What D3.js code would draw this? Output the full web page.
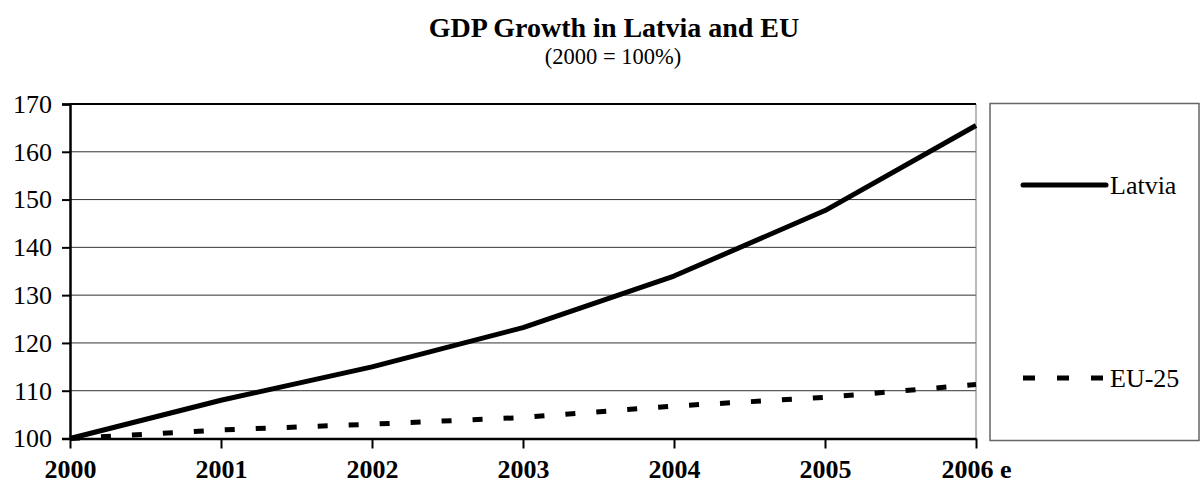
<!DOCTYPE html>
<html><head><meta charset="utf-8">
<script src="https://cdn.jsdelivr.net/npm/d3@7"></script>
<style>body{margin:0;background:#fff}svg{display:block}svg text{font-family:'Liberation Serif','Times New Roman',serif}</style>
</head><body>
<script>
const categories = ["2000","2001","2002","2003","2004","2005","2006 e"];
const latvia = [100, 108, 115, 123.2, 134, 147.7, 165.5];
const eu25 = [100, 101.8, 103, 104.4, 106.8, 108.6, 111.3];
const yTicks = [100,110,120,130,140,150,160,170];
const seriesNames = ["Latvia","EU-25"];

const W=1201,H=488;
const svg=d3.select("body").append("svg").attr("width",W).attr("height",H);
const font="'Liberation Serif','Times New Roman',serif";
const L=70,R=976,T=104,B=438.5;
const x=d3.scalePoint().domain(categories).range([L,R]);
const y=d3.scaleLinear().domain([100,170]).range([B,T]);

// title
svg.append("text").attr("x",614).attr("y",37).attr("text-anchor","middle")
  .attr("font-family",font).attr("font-weight","bold").attr("font-size",28).text("GDP Growth in Latvia and EU");
svg.append("text").attr("x",613).attr("y",64).attr("text-anchor","middle")
  .attr("font-family",font).attr("font-size",22.5).text("(2000 = 100%)");

// gridlines
svg.append("g").selectAll("line").data(yTicks.filter(d=>d>100&&d<170)).join("line")
  .attr("x1",L).attr("x2",R).attr("y1",d=>y(d)).attr("y2",d=>y(d))
  .attr("stroke","#333").attr("stroke-width",1);
// right border
svg.append("line").attr("x1",R).attr("x2",R).attr("y1",T).attr("y2",B).attr("stroke","#777").attr("stroke-width",1);
// top line
svg.append("line").attr("x1",L).attr("x2",R).attr("y1",y(170)).attr("y2",y(170)).attr("stroke","#000").attr("stroke-width",2);

// y axis
const ya=svg.append("g").attr("transform",`translate(${L},0)`)
  .call(d3.axisLeft(y).tickValues(yTicks).tickSize(8).tickPadding(10));
ya.attr("font-family",font);
ya.select(".domain").attr("stroke","#000").attr("stroke-width",2.5);
ya.selectAll(".tick line").attr("stroke","#000").attr("stroke-width",2);
ya.selectAll("text").attr("font-family",font).attr("font-size",26).attr("fill","#000");

// x axis
const xa=svg.append("g").attr("transform",`translate(0,${B})`)
  .call(d3.axisBottom(x).tickSizeInner(10).tickSizeOuter(0).tickPadding(11));
xa.attr("font-family",font);
xa.select(".domain").attr("stroke","#000").attr("stroke-width",2.5);
xa.selectAll(".tick line").attr("stroke","#000").attr("stroke-width",2);
xa.selectAll("text").attr("font-family",font).attr("font-weight","bold").attr("font-size",26).attr("fill","#000");

const line=d3.line().x((d,i)=>x(categories[i])).y(d=>y(d));
svg.append("path").attr("d",line(latvia)).attr("fill","none").attr("stroke","#000").attr("stroke-width",5).attr("stroke-linejoin","round");
svg.append("path").attr("d",line(eu25)).attr("fill","none").attr("stroke","#000").attr("stroke-width",5).attr("stroke-dasharray","10,21");

// legend
svg.append("rect").attr("x",990).attr("y",103.5).attr("width",209).attr("height",337).attr("fill","none").attr("stroke","#666").attr("stroke-width",1.5);
const ly=[185,378];
svg.append("line").attr("x1",1023).attr("x2",1106).attr("y1",ly[0]).attr("y2",ly[0]).attr("stroke","#000").attr("stroke-width",5).attr("stroke-linecap","round");
svg.append("line").attr("x1",1023).attr("x2",1106).attr("y1",ly[1]).attr("y2",ly[1]).attr("stroke","#000").attr("stroke-width",5).attr("stroke-dasharray","12,22");
seriesNames.forEach((n,i)=>{
  svg.append("text").attr("x",1110).attr("y",ly[i]+9).attr("font-family",font).attr("font-size",26).text(n);
});
</script>
</body></html>
